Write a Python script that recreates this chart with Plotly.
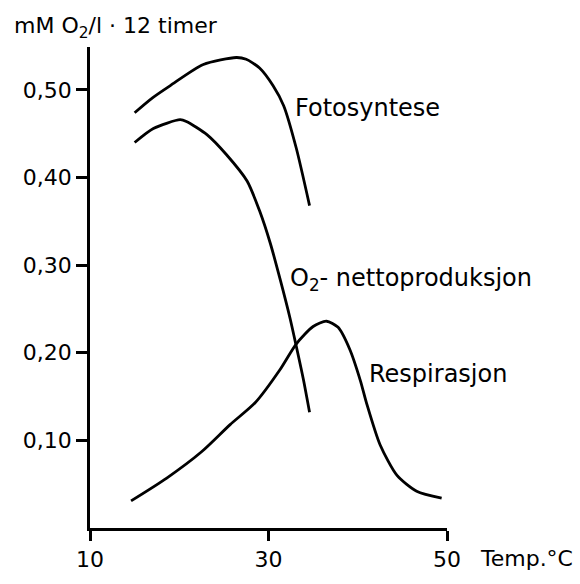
from plotly import graph_objects as go

# temperatures (deg C) and O2 values (mM O2 / l per 12 hours)
foto_t = [15.0, 17.0, 19.0, 22.7, 26.4, 27.5, 29.0, 30.5, 31.7, 33.1, 34.6]
foto_v = [0.474, 0.491, 0.505, 0.529, 0.537, 0.535, 0.525, 0.505, 0.482, 0.434, 0.368]

netto_t = [15.0, 17.1, 20.1, 20.8, 23.1, 25.3, 27.6, 29.0, 30.2, 31.3, 32.4, 33.1, 33.9, 34.6]
netto_v = [0.440, 0.456, 0.466, 0.464, 0.449, 0.426, 0.396, 0.362, 0.325, 0.284, 0.240, 0.208, 0.170, 0.132]

resp_t = [14.6, 18.6, 22.5, 25.7, 28.5, 31.3, 33.1, 35.0, 36.5, 37.8, 39.1, 40.3, 41.0, 42.5, 44.4, 46.6, 49.4]
resp_v = [0.031, 0.057, 0.087, 0.118, 0.143, 0.181, 0.210, 0.230, 0.236, 0.229, 0.204, 0.168, 0.142, 0.095, 0.060, 0.042, 0.034]

x_ticks = [10, 30, 50]
y_ticks = [0.10, 0.20, 0.30, 0.40, 0.50]

FONT = "DejaVu Sans"

fig = go.Figure()
for t, v in [(foto_t, foto_v), (netto_t, netto_v), (resp_t, resp_v)]:
    fig.add_trace(go.Scatter(x=t, y=v, mode='lines', line=dict(color='black', width=2.8, shape='spline', smoothing=0.7),
                             showlegend=False, hoverinfo='skip'))

labels = [
    (32.75, 0.479, 'Fotosyntese'),
    (32.2, 0.284, 'O<sub>2</sub>- nettoproduksjon'),
    (41.0, 0.176, 'Respirasjon'),
]
for x, y, txt in labels:
    fig.add_annotation(x=x, y=y, text=txt, showarrow=False, xanchor='left', yanchor='middle',
                       font=dict(family=FONT, size=24, color='black'))

# axis captions sit outside the plot area, so they use paper coordinates
fig.add_annotation(x=1.087, y=-0.063, xref='paper', yref='paper', text='Temp.°C',
                   showarrow=False, xanchor='left', yanchor='middle',
                   font=dict(family=FONT, size=22, color='black'))
fig.add_annotation(x=-0.218, y=1.04, xref='paper', yref='paper', text='mM O<sub>2</sub>/l · 12 timer',
                   showarrow=False, xanchor='left', yanchor='middle',
                   font=dict(family=FONT, size=22, color='black'))

fig.update_xaxes(range=[10, 50], tickvals=x_ticks, ticktext=[str(v) for v in x_ticks],
                 showline=True, linecolor='black', linewidth=2.5, ticks='outside', ticklen=10,
                 tickwidth=2.5, tickcolor='black', showgrid=False, zeroline=False,
                 tickfont=dict(family=FONT, size=22, color='black'))
fig.update_yaxes(range=[0, 0.549], tickvals=y_ticks, tickformat='.2f',
                 showline=True, linecolor='black', linewidth=2.5, ticks='outside', ticklen=11,
                 tickwidth=2.5, tickcolor='black', showgrid=False, zeroline=False,
                 tickfont=dict(family=FONT, size=22, color='black'))

fig.update_layout(width=580, height=584, margin=dict(l=90, r=133, t=47, b=47),
                  plot_bgcolor='white', paper_bgcolor='white', separators=', ')

# drop the default 8px page margin so the figure fills the window exactly
fig.write_html("out.html", config={'displayModeBar': False},
               post_script="document.body.style.margin='0px';")
